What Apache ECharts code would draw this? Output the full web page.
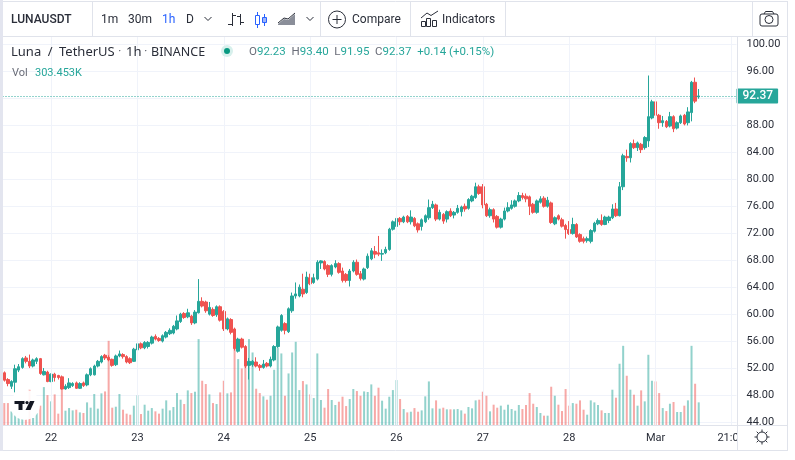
<!DOCTYPE html>
<html>
<head>
<meta charset="utf-8">
<title>LUNAUSDT</title>
<script src="https://cdn.jsdelivr.net/npm/echarts@6/dist/echarts.min.js"></script>
<style>
  html, body { margin: 0; padding: 0; background: #fff; }
  #main { width: 795px; height: 460px; }
</style>
</head>
<body>
<div id="main"></div>
<script>
// hourly candles, first line ends at the last hour of the 21st, then one line per day
const opens = [
  51.3,50.3,49.3,49.9,51.7,52.1,53.5,53.0,52.3,53.0,53.4,51.0,51.4,
  50.0,51.1,50.9,50.7,48.9,49.1,49.4,49.8,49.0,49.8,49.5,51.0,51.0,52.3,52.9,53.9,53.6,53.3,52.5,53.8,54.0,53.7,53.4,53.0,
  54.7,55.6,55.0,55.2,55.7,56.7,56.4,56.0,56.6,57.1,57.2,57.8,58.9,60.1,59.6,59.7,58.7,60.2,61.9,61.8,60.0,60.7,59.9,61.1,
  60.4,57.8,59.2,57.8,54.5,56.3,55.2,52.4,52.5,52.9,52.4,52.1,52.7,52.3,53.2,55.2,57.6,58.6,57.4,60.5,62.7,62.7,63.7,63.2,
  65.4,64.7,65.2,67.6,67.8,67.2,65.9,67.0,67.5,66.4,65.9,65.0,66.4,67.7,66.0,65.2,66.9,68.2,69.3,69.1,68.9,69.1,69.6,72.6,
  73.0,74.2,73.7,74.5,73.7,74.2,73.4,73.0,73.7,74.3,75.8,76.2,74.1,74.8,74.1,75.3,74.7,75.1,75.2,76.0,75.7,76.8,77.3,78.9,
  78.9,76.3,74.6,75.5,74.5,72.9,74.1,75.3,75.7,76.0,76.8,77.6,77.5,77.4,76.3,75.1,76.6,77.2,76.0,76.5,73.4,74.6,74.0,73.15,
  72.55,71.95,73.3,71.8,71.2,70.9,70.8,72.3,73.4,73.9,73.3,73.9,74.3,75.6,74.6,78.9,83.4,83.2,85.3,84.7,85.2,84.7,85.7,89.1,
  91.5,89.5,88.4,88.6,87.9,89.3,87.6,88.4,89.5,88.4,89.9,94.4,92.23,
];
const closes = [
  50.2,49.7,50.0,51.9,52.2,53.4,53.0,52.3,53.2,53.4,51.2,51.5,50.0,
  51.1,50.6,50.6,48.9,49.3,49.8,49.7,49.0,49.7,49.4,51.0,51.9,52.3,53.0,53.7,53.5,53.2,52.4,53.8,54.1,53.7,52.9,52.8,54.8,
  55.6,55.0,55.8,55.8,56.6,56.3,56.1,56.8,57.3,57.6,58.2,59.0,60.0,59.5,60.2,58.7,60.3,61.9,61.2,60.5,61.0,59.8,61.1,59.1,
  57.8,59.3,57.3,54.9,56.3,55.1,52.3,53.0,53.0,52.3,52.1,52.6,52.3,53.3,55.2,58.1,59.8,57.6,60.8,62.7,63.0,64.0,63.0,65.5,
  64.5,65.4,67.7,67.9,66.7,65.9,67.2,67.5,66.2,65.0,65.0,66.4,67.7,65.9,65.3,66.7,68.6,69.4,68.9,68.9,69.0,69.6,72.6,73.7,
  74.2,73.7,74.4,73.7,74.4,73.1,72.5,74.0,74.6,75.8,76.3,74.1,75.1,73.8,75.2,74.6,75.1,75.7,75.9,75.6,77.0,77.5,78.9,77.9,
  76.2,74.6,75.5,74.1,72.9,74.1,75.3,75.8,76.2,76.8,77.6,77.3,77.1,76.0,75.1,76.8,77.1,76.0,76.9,73.6,74.3,74.1,73.05,72.55,
  71.95,73.3,71.45,70.8,70.8,71.2,72.4,73.5,73.9,73.3,74.4,74.4,75.6,74.6,78.9,83.5,83.2,85.3,84.7,85.4,84.4,86.2,89.3,91.5,
  89.5,88.4,88.7,87.8,89.3,87.5,88.4,89.4,88.2,90.0,94.4,91.6,92.37,
];
const lows = [
  50.0,49.3,48.9,48.4,51.4,51.9,52.7,52.0,52.1,52.6,51.0,50.9,49.9,
  49.9,50.0,50.3,48.8,48.8,48.9,49.2,48.9,48.9,49.2,49.3,50.8,50.9,52.1,52.7,53.2,53.0,52.2,52.3,53.6,53.4,52.7,52.6,52.9,
  54.5,54.8,54.8,54.9,55.5,56.1,55.9,55.8,56.4,56.9,57.0,57.6,58.7,59.3,59.4,58.4,58.5,60.1,61.0,60.2,59.8,59.6,59.6,58.9,
  57.5,57.6,57.0,54.6,54.3,54.9,52.0,50.3,52.2,52.1,51.6,51.9,52.1,52.1,53.0,55.0,57.4,57.0,57.2,60.2,62.3,62.5,62.5,63.0,
  64.3,64.5,65.0,66.7,66.5,65.5,65.6,66.8,66.0,64.7,64.7,64.1,66.2,65.7,65.0,65.0,66.7,68.0,68.3,68.6,67.9,68.9,69.4,72.4,
  72.8,73.2,73.5,73.5,73.3,72.9,72.1,72.4,73.5,74.0,75.6,73.8,73.9,73.4,73.6,74.4,74.2,74.9,74.5,75.2,75.5,76.6,77.1,77.7,
  75.7,74.4,74.3,73.6,72.7,72.7,73.9,75.1,75.5,75.8,76.6,77.0,76.6,74.7,74.9,74.9,76.4,75.8,75.8,73.4,73.2,73.9,72.85,71.2,
  71.75,71.8,71.3,70.6,70.5,70.6,70.5,72.1,73.2,73.1,73.2,73.5,74.1,74.4,74.5,78.4,82.6,82.5,84.5,84.2,83.9,84.4,84.8,88.9,
  89.1,87.5,87.8,87.6,87.7,87.0,87.4,88.2,88.0,88.0,88.6,91.3,91.95,
];
const highs = [
  51.5,50.5,50.2,52.5,52.6,53.6,53.8,54.0,53.4,53.6,53.5,52.0,51.6,
  51.2,51.3,51.0,50.9,49.6,50.5,49.9,50.0,49.9,50.0,51.2,52.1,52.5,53.2,53.9,54.1,53.9,53.4,54.0,54.6,54.2,53.9,53.6,55.0,
  56.0,55.8,56.0,56.0,56.8,57.0,56.6,57.0,57.5,57.9,58.4,59.8,60.2,60.3,60.8,59.9,60.6,65.2,62.5,62.0,61.8,61.0,61.3,61.3,
  60.6,59.5,59.4,58.0,56.5,56.5,55.4,53.5,53.2,53.6,52.6,53.2,52.9,53.7,55.4,58.3,60.0,58.8,61.0,63.2,64.7,64.4,66.0,66.3,
  66.0,66.0,68.0,68.0,68.0,67.4,67.4,68.0,67.7,66.9,66.1,66.7,68.0,68.1,66.4,66.9,69.0,69.8,70.1,71.6,69.6,70.0,72.8,73.9,
  75.6,74.4,74.6,74.7,75.4,74.4,73.6,74.2,74.8,77.0,76.8,76.4,75.5,75.0,75.4,75.7,75.3,76.2,76.1,76.4,77.2,77.7,79.5,79.2,
  79.3,76.5,75.8,75.7,74.7,74.3,75.8,76.6,76.9,77.0,78.1,78.0,77.9,77.6,76.5,77.0,77.5,77.5,77.4,76.7,74.5,74.8,74.3,73.4,
  73.8,74.3,73.5,72.0,71.5,71.5,72.6,73.7,74.2,74.8,74.6,74.6,76.3,76.5,79.6,83.8,84.4,85.5,85.9,85.6,85.4,86.4,95.4,91.8,
  92.4,89.7,89.4,88.8,90.0,89.5,88.6,89.6,89.7,90.7,94.6,95.1,93.40,
];
// volume in thousands
const volumes = [
  294,294,183,134,94,80,80,473,94,161,259,508,401,
  317,410,152,540,192,227,196,205,169,161,303,232,415,219,424,450,1128,232,245,415,205,152,138,259,
  397,147,272,192,227,183,152,219,330,196,241,428,339,281,464,428,446,1151,593,549,410,294,281,437,
  593,424,437,1061,883,758,1044,1151,972,486,428,384,339,392,740,1039,959,392,691,972,1115,468,589,544,
  410,361,959,335,232,482,335,268,312,379,254,348,482,455,392,450,442,544,392,500,326,219,379,468,
  602,348,214,169,178,227,178,196,384,584,223,330,219,232,210,210,210,214,196,152,241,223,330,339,
  446,392,183,272,232,259,205,272,214,192,268,214,268,428,285,241,161,125,125,513,392,272,187,482,
  259,294,285,330,205,138,330,303,268,196,161,161,473,366,821,1061,660,473,406,259,464,317,941,593,
  584,428,227,187,285,308,174,174,259,330,1061,553,303.453,
];
const priceTicks = { min: 44, max: 100, step: 4 };
const lastPrice = 92.37;
const dayLabels = ["22", "23", "24", "25", "26", "27", "28", "Mar"];
const lateLabel = "21:00";
const hoursBeforeFirstDay = 13;
const slotsAfterLastCandle = 10; // empty space right of the last candle
const hoursToLateLabel = 21;

const UP = "#26a69a";
const DOWN = "#ef5350";
const GRID = "#f0f3fa";
const BORDER = "#e0e3eb";
const TEXT = "#2a2e39";
const FONT = "Roboto, sans-serif";
const LEGEND_FONT = "'Noto Sans', sans-serif";

const categories = [];
for (let i = 0; i < opens.length + slotsAfterLastCandle; i++) {
  const h = i - hoursBeforeFirstDay;
  let label = "";
  if (h >= 0 && h % 24 === 0 && h / 24 < dayLabels.length) label = dayLabels[h / 24];
  if (h === (dayLabels.length - 1) * 24 + hoursToLateLabel) label = lateLabel;
  categories.push(label);
}

const candleData = opens.map((o, i) => [o, closes[i], lows[i], highs[i]]);
const volumeData = volumes.map((v, i) => ({
  value: v,
  itemStyle: { color: closes[i] >= opens[i] ? "rgba(38,166,154,0.5)" : "rgba(239,83,80,0.5)" },
}));

const hasLabel = (idx, value) => value !== "";

// toolbar and frame bits
function line(x1, y1, x2, y2, color, width, z) {
  return { type: "line", shape: { x1, y1, x2, y2 }, style: { stroke: color || BORDER, lineWidth: width || 1 }, z: z || 1, silent: true };
}
function label(x, y, text, fill, size, weight, family) {
  return { type: "text", x, y, z: 20, silent: true,
    style: { text, fill: fill || TEXT, font: (weight || 400) + " " + (size || 12) + "px " + (family || FONT), textVerticalAlign: "middle" } };
}
function poly(points, fill, z) {
  return { type: "polygon", shape: { points }, style: { fill }, z: z || 20, silent: true };
}
function chevron(x, y) {
  return { type: "polyline", shape: { points: [[x - 3.5, y - 2], [x, y + 1.5], [x + 3.5, y - 2]] }, style: { stroke: TEXT, fill: "none", lineWidth: 1 }, z: 20, silent: true };
}

const ICON = "#2a2e39";
const BLUE = "#2962ff";
const GREY = "#6a6d78";
const sunTicks = [];
for (let a = 0; a < 8; a++) {
  const t = a * Math.PI / 4;
  sunTicks.push(line(762 + 5 * Math.cos(t), 437 + 5 * Math.sin(t), 762 + 7.5 * Math.cos(t), 437 + 7.5 * Math.sin(t), ICON, 1, 21));
}

const chrome = [
  // frame
  { type: "rect", shape: { x: 0, y: 0, width: 3, height: 451 }, style: { fill: "#e3e5ef" }, z: 30, silent: true },
  line(3, 1.5, 788, 1.5), line(3, 36.5, 788, 36.5), line(3, 450.5, 788, 450.5), line(787.5, 1, 787.5, 451),
  line(92.5, 2, 92.5, 36), line(320.5, 2, 320.5, 36), line(410.5, 2, 410.5, 36), line(505.5, 2, 505.5, 36), line(752.5, 2, 752.5, 36),
  // corner block hides the clipped axis labels like the real panes do
  { type: "rect", shape: { x: 737, y: 425, width: 50, height: 25 }, style: { fill: "#fff" }, z: 15, silent: true },
  line(737.5, 37, 737.5, 450, BORDER, 1, 16), line(3, 425.5, 787, 425.5, BORDER, 1, 16),
  // toolbar
  label(11, 19.5, "LUNAUSDT", TEXT, 12, 500),
  label(101, 19.5, "1m"), label(128, 19.5, "30m"), label(162, 19.5, "1h", BLUE), label(186, 19.5, "D"),
  chevron(208, 19), chevron(310, 19),
  // bars icon
  line(232.5, 13, 232.5, 26, ICON), line(228, 24.5, 232, 24.5, ICON), line(233, 15.5, 236, 15.5, ICON),
  line(240.5, 14, 240.5, 25, ICON), line(237, 16.5, 240, 16.5, ICON), line(241, 22.5, 244, 22.5, ICON),
  // candle icon
  { type: "rect", shape: { x: 255.5, y: 15.5, width: 4, height: 9 }, style: { stroke: BLUE, fill: "none" }, z: 20, silent: true },
  line(257.5, 12, 257.5, 15, BLUE), line(257.5, 25, 257.5, 28, BLUE),
  { type: "rect", shape: { x: 262.5, y: 17.5, width: 4, height: 5 }, style: { stroke: BLUE, fill: "#9db5fb" }, z: 20, silent: true },
  line(264.5, 14, 264.5, 17, BLUE), line(264.5, 23, 264.5, 26, BLUE),
  // area icon
  poly([[278, 24], [284, 19], [288, 20], [295, 14], [295, 25], [278, 25]], "#8a8e99"),
  { type: "polyline", shape: { points: [[278, 23], [284, 18], [288, 19], [295, 13]] }, style: { stroke: ICON, fill: "none" }, z: 20, silent: true },
  // compare
  { type: "circle", shape: { cx: 337, cy: 19.5, r: 8.5 }, style: { stroke: ICON, fill: "none" }, z: 20, silent: true },
  line(332.5, 19.5, 341.5, 19.5, ICON), line(337, 15, 337, 24, ICON),
  label(352, 19.5, "Compare"),
  // indicators icon
  { type: "rect", shape: { x: 421.5, y: 21.5, width: 4, height: 5 }, style: { stroke: ICON, fill: "none" }, z: 20, silent: true },
  { type: "rect", shape: { x: 426.5, y: 18.5, width: 4, height: 8 }, style: { stroke: ICON, fill: "none" }, z: 20, silent: true },
  { type: "rect", shape: { x: 432.5, y: 20.5, width: 4, height: 6 }, style: { stroke: ICON, fill: "none" }, z: 20, silent: true },
  { type: "polyline", shape: { points: [[421, 18], [427, 13], [431, 15.5], [438, 11]] }, style: { stroke: ICON, fill: "none" }, z: 20, silent: true },
  label(442, 19.5, "Indicators"),
  // camera
  { type: "rect", shape: { x: 760, y: 14, width: 18, height: 12, r: 2 }, style: { stroke: ICON, fill: "none" }, z: 20, silent: true },
  { type: "polyline", shape: { points: [[764, 14], [765.5, 11.5], [772.5, 11.5], [774, 14]] }, style: { stroke: ICON, fill: "none" }, z: 20, silent: true },
  { type: "circle", shape: { cx: 769, cy: 19.5, r: 4 }, style: { stroke: ICON, fill: "none" }, z: 20, silent: true },
  // legend
  label(11, 52, "Luna\u2002/\u2002TetherUS", TEXT, 13, 400, LEGEND_FONT),
  label(118, 52, "\u00b7", GREY, 13),
  label(126, 52, "1h", TEXT, 13, 400, LEGEND_FONT),
  label(144, 52, "\u00b7", GREY, 13),
  label(151, 52, "BINANCE", TEXT, 12.5, 400, LEGEND_FONT),
  { type: "circle", shape: { cx: 227, cy: 51, r: 6 }, style: { fill: "#d7f0ec" }, z: 20, silent: true },
  { type: "circle", shape: { cx: 227, cy: 51, r: 3 }, style: { fill: "#089981" }, z: 21, silent: true },
  { type: "text", x: 249, y: 52, z: 20, silent: true, style: {
      text: "{k|O}{v|92.23}  {k|H}{v|93.40}  {k|L}{v|91.95}  {k|C}{v|92.37}  {v|+0.14 (+0.15%)}",
      textVerticalAlign: "middle", font: "11.5px " + FONT,
      rich: { k: { fill: GREY, font: "11.5px " + FONT }, v: { fill: UP, font: "11.5px " + FONT } } } },
  label(12, 73, "Vol", GREY, 11),
  label(35, 73, "303.453K", UP, 11),
  // logo badge
  { type: "circle", shape: { cx: 25, cy: 405, r: 15 }, style: { fill: "rgba(255,255,255,0.92)" }, z: 12, silent: true },
  poly([[14.5, 401], [24.5, 401], [24.5, 404], [22.5, 404], [22.5, 410], [18.5, 410], [18.5, 404], [14.5, 404]], "#131722", 13),
  { type: "circle", shape: { cx: 27, cy: 402.6, r: 1.6 }, style: { fill: "#131722" }, z: 13, silent: true },
  poly([[30, 401], [34.5, 401], [30.5, 410], [25.5, 410]], "#131722", 13),
  // settings icon
  { type: "circle", shape: { cx: 762, cy: 437, r: 5 }, style: { stroke: ICON, fill: "none" }, z: 21, silent: true },
  ...sunTicks,
];

const myChart = echarts.init(document.getElementById("main"));
myChart.setOption({
  animation: false,
  backgroundColor: "#fff",
  textStyle: { fontFamily: FONT },
  grid: [
    { left: 2.5, width: 734, top: 44.5, height: 377.5 }, // price pane, top and bottom sit on 100 and 44
    { left: 2.5, width: 734, top: 37, height: 388 },     // volume pane, full height
  ],
  xAxis: [
    {
      type: "category", gridIndex: 0, data: categories,
      axisLine: { show: false }, axisTick: { show: false }, axisLabel: { show: false }, splitLine: { show: false },
    },
    {
      type: "category", gridIndex: 1, data: categories, z: 5,
      axisLine: { show: false }, axisTick: { show: false },
      axisLabel: { interval: hasLabel, color: TEXT, fontSize: 11, margin: 8, fontFamily: FONT },
      splitLine: { show: true, interval: hasLabel, alignWithLabel: true, lineStyle: { color: GRID, width: 1 } },
    },
  ],
  yAxis: [
    {
      type: "value", gridIndex: 0, position: "right", z: 1,
      min: priceTicks.min, max: priceTicks.max, interval: priceTicks.step,
      axisLine: { show: false }, axisTick: { show: false },
      axisLabel: { color: TEXT, fontSize: 11, margin: 10, fontFamily: FONT, padding: [6, 0, 0, 0], formatter: (v) => v.toFixed(2) },
      splitLine: { show: true, lineStyle: { color: GRID, width: 1 } },
    },
    {
      type: "value", gridIndex: 1, min: 0, max: 5200,
      axisLine: { show: false }, axisTick: { show: false }, axisLabel: { show: false }, splitLine: { show: false },
    },
  ],
  series: [
    {
      name: "Vol", type: "bar", xAxisIndex: 1, yAxisIndex: 1, data: volumeData,
      barWidth: 2, z: 2, silent: true,
    },
    {
      name: "LUNAUSDT", type: "candlestick", xAxisIndex: 0, yAxisIndex: 0, data: candleData,
      barWidth: 3, z: 3, silent: true,
      itemStyle: { color: UP, color0: DOWN, borderColor: UP, borderColor0: DOWN, borderWidth: 1 },
      markLine: {
        silent: true, symbol: "none", animation: false,
        lineStyle: { type: [1, 2], color: UP, width: 1 },
        label: {
          position: "end", distance: 0, formatter: lastPrice.toFixed(2),
          color: "#fff", backgroundColor: UP, fontSize: 12, fontWeight: 500, fontFamily: FONT,
          align: "left", verticalAlign: "middle", padding: [2, 5, 1, 6], borderRadius: 1,
        },
        data: [{ yAxis: lastPrice }],
      },
    },
  ],
  graphic: { elements: chrome },
});
</script>
</body>
</html>
